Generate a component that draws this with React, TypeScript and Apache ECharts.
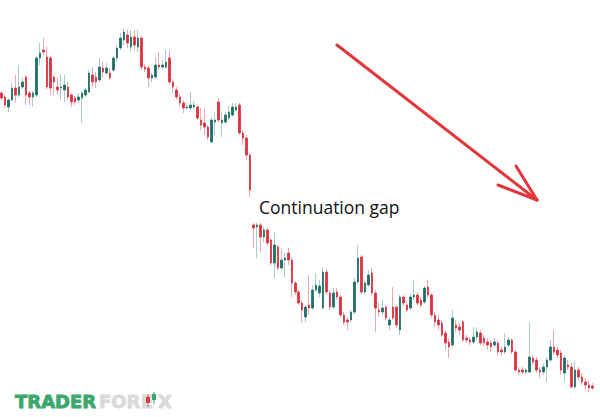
import { useRef, useEffect } from "react";
import * as echarts from "echarts";

// prices (arbitrary units, higher = up)
const opens = [
  327, 323, 313, 320, 332, 325, 333, 343, 327, 323, 325, 362, 370, 363, 362, 343, 333, 332, 330, 333,
  325, 322, 320, 322, 325, 328, 345, 343, 340, 352, 347, 347, 350, 362, 372, 380, 385, 373, 383, 373,
  382, 353, 352, 342, 343, 355, 353, 353, 362, 338, 330, 323, 317, 312, 312, 313, 313, 300, 297, 293,
  278, 298, 318, 297, 298, 302, 305, 310, 315, 287, 282, 265, 195, 193, 195, 183, 190, 180, 157, 173,
  152, 160, 167, 160, 137, 128, 117, 103, 115, 112, 130, 127, 112, 148, 127, 113, 128, 123, 105, 100,
  100, 108, 138, 163, 128, 135, 147, 127, 110, 108, 113, 95, 113, 113, 90, 123, 115, 112, 123, 125,
  120, 118, 133, 125, 105, 100, 97, 87, 78, 75, 95, 93, 98, 82, 80, 78, 83, 87, 82, 78,
  77, 75, 77, 70, 68, 75, 80, 68, 50, 50, 48, 48, 62, 60, 50, 48, 53, 60, 73, 70,
  67, 47, 55, 53, 33, 50, 43, 38, 35, 34,
];
const closes = [
  322, 315, 320, 332, 325, 333, 338, 325, 323, 327, 362, 367, 368, 333, 332, 338, 330, 333, 335, 323,
  318, 318, 323, 327, 330, 347, 338, 338, 353, 348, 352, 342, 362, 372, 382, 388, 377, 383, 375, 382,
  353, 351, 342, 345, 355, 353, 355, 358, 338, 333, 323, 317, 312, 313, 315, 315, 302, 295, 293, 283,
  300, 300, 300, 300, 305, 308, 313, 313, 287, 282, 265, 230, 192, 195, 183, 190, 177, 157, 175, 152,
  160, 162, 160, 137, 128, 117, 110, 113, 112, 130, 135, 134, 148, 128, 113, 127, 123, 105, 98, 98,
  108, 138, 162, 128, 137, 145, 127, 112, 108, 112, 102, 100, 102, 95, 123, 117, 110, 123, 125, 117,
  115, 132, 125, 105, 98, 95, 85, 77, 73, 102, 92, 90, 80, 80, 78, 83, 88, 77, 77, 75,
  73, 78, 68, 68, 73, 80, 68, 50, 48, 48, 50, 63, 58, 50, 48, 53, 60, 73, 68, 65,
  50, 62, 53, 33, 50, 43, 38, 35, 32, 32,
];
const highs = [
  329, 325, 322, 337, 345, 355, 343, 345, 329, 329, 364, 377, 382, 373, 364, 345, 342, 345, 345, 338,
  327, 324, 327, 329, 332, 350, 353, 348, 362, 358, 357, 352, 364, 375, 387, 392, 390, 390, 390, 390,
  384, 356, 354, 347, 363, 368, 360, 370, 370, 341, 333, 326, 320, 317, 328, 319, 315, 312, 312, 295,
  303, 308, 322, 308, 308, 314, 317, 317, 317, 290, 285, 267, 197, 197, 197, 193, 192, 182, 188, 175,
  172, 167, 172, 163, 139, 130, 120, 115, 145, 135, 147, 140, 153, 150, 130, 132, 132, 125, 108, 103,
  110, 142, 175, 165, 140, 150, 152, 130, 117, 120, 115, 103, 133, 115, 125, 125, 120, 127, 140, 128,
  123, 134, 140, 127, 108, 105, 100, 90, 82, 110, 100, 97, 100, 85, 83, 93, 93, 90, 85, 82,
  80, 82, 80, 73, 87, 83, 82, 70, 53, 53, 52, 98, 65, 63, 53, 57, 63, 80, 90, 73,
  70, 65, 60, 57, 58, 53, 47, 42, 40, 37,
];
const lows = [
  320, 312, 308, 319, 317, 323, 331, 315, 315, 313, 323, 355, 365, 331, 325, 325, 325, 320, 318, 320,
  313, 315, 317, 297, 323, 327, 333, 332, 338, 342, 345, 340, 348, 358, 370, 375, 372, 368, 370, 368,
  350, 348, 333, 338, 341, 350, 350, 351, 336, 327, 320, 313, 307, 310, 310, 311, 300, 290, 285, 280,
  277, 285, 298, 283, 296, 300, 303, 308, 285, 275, 260, 223, 172, 162, 168, 178, 175, 155, 142, 150,
  150, 143, 155, 123, 125, 115, 97, 98, 105, 110, 128, 123, 110, 125, 110, 111, 120, 103, 95, 90,
  97, 106, 136, 126, 125, 133, 125, 88, 103, 105, 100, 90, 100, 92, 85, 114, 108, 110, 120, 114,
  112, 116, 123, 102, 93, 90, 83, 70, 62, 73, 88, 85, 78, 77, 75, 76, 80, 75, 74, 70,
  68, 72, 65, 64, 66, 73, 66, 48, 45, 46, 46, 47, 55, 47, 42, 45, 38, 58, 65, 62,
  45, 38, 50, 32, 31, 40, 35, 30, 28, 30,
];
const sessions = opens.map((_, i) => String(i + 1));

const UP = "#1d6f66";
const DOWN = "#dc313d";
const UP_WICK = "#a9cdc8";
const DOWN_WICK = "#f1a7ae";
const ARROW = "#e3363a";
const LOGO_GREEN = "#3aa96b";
const LOGO_GREY = "#dadada";

const logoText = (text: string, x: number, fill: string) => ({
  type: "text",
  x,
  y: 401,
  style: {
    text,
    font: "bold 18px 'DejaVu Sans'",
    fill,
    stroke: fill,
    lineWidth: 0.9,
    verticalAlign: "middle",
  },
});

const CandleChart = () => {
  const chartRef = useRef<HTMLDivElement>(null);

  useEffect(() => {
    if (!chartRef.current) return;
    const myChart = echarts.init(chartRef.current, null, { renderer: "svg" });

    const wickData = opens.map((o, i) => [o, closes[i], lows[i], highs[i]]);
    const bodyData = opens.map((o, i) => [
      o,
      closes[i],
      Math.min(o, closes[i]),
      Math.max(o, closes[i]),
    ]);

    const option = {
      animation: false,
      backgroundColor: "#ffffff",
      grid: { left: 0, right: 6, top: 0, bottom: 0 },
      xAxis: {
        type: "category",
        data: sessions,
        boundaryGap: true,
        show: false,
      },
      yAxis: {
        type: "value",
        min: 3,
        max: 420,
        show: false,
      },
      series: [
        {
          name: "wicks",
          type: "candlestick",
          data: wickData,
          barWidth: 1,
          itemStyle: {
            color: UP_WICK,
            color0: DOWN_WICK,
            borderColor: UP_WICK,
            borderColor0: DOWN_WICK,
            borderWidth: 1,
          },
        },
        {
          name: "bodies",
          type: "candlestick",
          data: bodyData,
          barWidth: 2,
          itemStyle: {
            color: UP,
            color0: DOWN,
            borderColor: UP,
            borderColor0: DOWN,
            borderWidth: 0.8,
          },
        },
      ],
      graphic: [
        {
          type: "line",
          shape: { x1: 337, y1: 45, x2: 537, y2: 200 },
          style: { stroke: ARROW, lineWidth: 3, lineCap: "round" },
        },
        {
          type: "line",
          shape: { x1: 516, y1: 166, x2: 537, y2: 200 },
          style: { stroke: ARROW, lineWidth: 3, lineCap: "round" },
        },
        {
          type: "line",
          shape: { x1: 498, y1: 185, x2: 537, y2: 200 },
          style: { stroke: ARROW, lineWidth: 3, lineCap: "round" },
        },
        {
          type: "text",
          x: 259,
          y: 207,
          style: {
            text: "Continuation gap",
            font: "17.5px 'Open Sans'",
            fill: "#111111",
            verticalAlign: "middle",
          },
        },
        // watermark logo
        logoText("TRADER", 15, LOGO_GREEN),
        logoText("FOR", 99, LOGO_GREY),
        logoText("E", 141, LOGO_GREY),
        {
          type: "line",
          shape: { x1: 148, y1: 394, x2: 148, y2: 407 },
          style: { stroke: "#e25a5a", lineWidth: 1 },
        },
        {
          type: "rect",
          shape: { x: 146, y: 397, width: 4, height: 6 },
          style: { fill: "#e03a3a" },
        },
        {
          type: "line",
          shape: { x1: 154, y1: 392, x2: 154, y2: 404 },
          style: { stroke: LOGO_GREEN, lineWidth: 1 },
        },
        {
          type: "rect",
          shape: { x: 152, y: 394, width: 4, height: 6 },
          style: { fill: LOGO_GREEN },
        },
        logoText("X", 158, LOGO_GREY),
      ],
    };
    myChart.setOption(option as any);

    return () => {
      myChart.dispose();
    };
  }, []);

  return (
    <div
      ref={chartRef}
      style={{ position: "fixed", left: 0, top: 0, width: 600, height: 417 }}
    ></div>
  );
};

export default function App() {
  return <CandleChart />;
}
